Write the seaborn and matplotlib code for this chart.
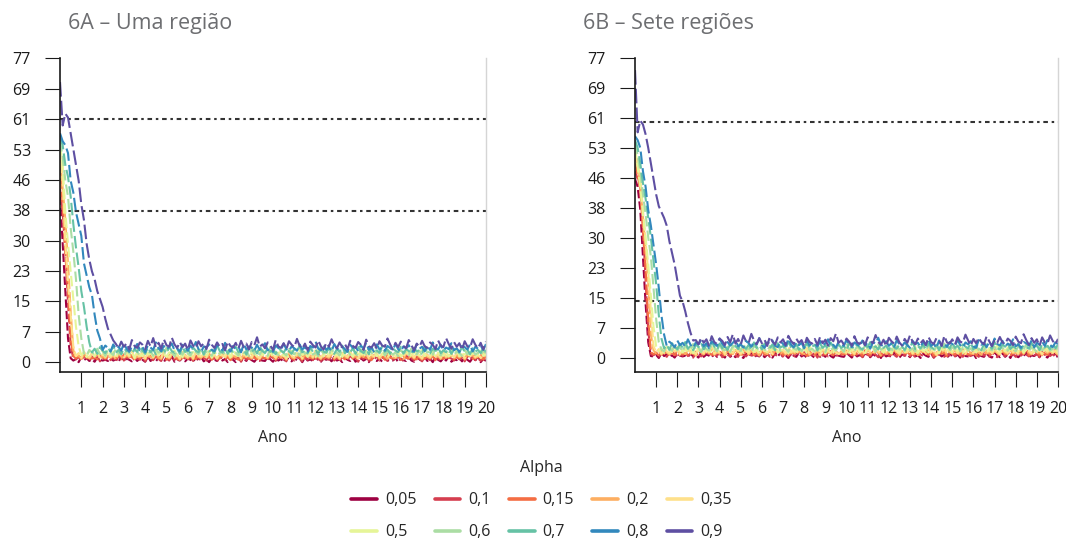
import numpy as np
import pandas as pd
import matplotlib.pyplot as plt
import seaborn as sns
from matplotlib.lines import Line2D

# Alpha values (legend labels) and weekly-ish time grid (8 steps per year, 0..20)
alpha_labels = ['0,05', '0,1', '0,15', '0,2', '0,35', '0,5', '0,6', '0,7', '0,8', '0,9']
n_steps = 161
steps_per_year = 8

# Initial fall of each series, one list per alpha
decay_a = [
    [42, 30, 18, 6, 1],
    [44, 38, 28, 15, 4, 1],
    [50, 40, 28, 18, 6, 1.5],
    [52, 44, 36, 25, 13, 3],
    [54, 46, 30, 20, 12, 4],
    [55, 50, 38, 30, 23, 16, 9, 4],
    [56, 52, 46, 42, 34, 28, 21, 12, 6],
    [57, 55, 50, 47, 42, 35, 29, 24, 18, 14, 9, 5],
    [58, 56, 55, 53, 46, 43, 38, 35, 32, 25, 22, 19, 17, 12, 8, 6],
    [71, 60, 63, 62, 58, 54, 50, 46, 40, 36, 30, 26, 23, 21, 18, 16, 14, 11, 8.5, 7, 5.5],
]
decay_b = [
    [46, 44, 38, 26, 14, 4, 0.5],
    [48, 46, 44, 34, 20, 7, 1],
    [50, 47, 43, 33, 23, 10, 1.5],
    [52, 49, 44, 36, 28, 20, 6, 2],
    [53, 50, 46, 38, 30, 22, 12, 3],
    [54, 49, 44, 37, 31, 24, 16, 8, 3],
    [55, 52, 48, 42, 37, 31, 26, 18, 10, 4],
    [56, 54, 50, 45, 41, 36, 31, 25, 19, 11, 5],
    [57, 56, 54, 48, 44, 38, 34, 29, 24, 18, 11, 6],
    [74, 58, 61, 60, 57.5, 54, 50, 46, 42, 39, 37.5, 36, 34, 30, 27, 24, 20, 16, 14.5, 12, 9, 6.5, 4.5],
]

# Noisy plateau after the fall (estimated band of each colour)
plateau_005 = [
    0.4, 0.8, 0.0, 1.3, 0.5, 1.0, 0.3, 0.7, 0.1, 1.2, 0.6, 0.4,
    0.6, 0.3, 1.1, 0.4, 0.7, 0.1, 1.4, 0.3, 0.9, 0.6, 0.2, 1.1,
    0.3, 1.0, 0.6, 0.1, 1.5, 0.3, 0.8, 0.2, 1.1, 0.5, 0.0, 1.2,
    0.5, 1.5, 0.1, 0.7, 0.4, 1.2, 0.2, 0.9, 0.6, 0.1, 1.3, 0.4,
    1.3, 0.2, 0.7, 0.0, 1.1, 0.6, 0.3, 1.4, 0.4, 0.8, 0.0, 1.0,
    0.6, 0.0, 1.2, 0.3, 0.9, 0.3, 1.5, 0.5, 0.1, 1.0, 0.6, 0.4,
    0.3, 1.3, 0.7, 0.1, 1.1, 0.4, 0.8, 0.0, 1.4, 0.5, 0.2, 1.0,
    0.5, 1.0, 0.0, 1.2, 0.4, 0.7, 0.2, 1.5, 0.4, 0.1, 0.9, 0.6,
    0.9, 0.2, 1.4, 0.4, 0.7, 0.0, 1.1, 0.6, 0.3, 1.2, 0.1, 0.8,
    1.0, 0.4, 0.8, 0.0, 1.2, 0.6, 0.3, 0.9, 0.1, 1.3, 0.5, 0.4,
    0.4, 1.1, 0.0, 0.9, 0.5, 0.3, 1.2, 0.4, 0.1, 1.4, 0.7, 0.2,
    1.2, 0.3, 0.9, 0.0, 1.3, 0.6, 0.2, 1.0, 0.4, 1.5, 0.1, 0.7,
    0.5, 1.0, 0.2, 1.3, 0.6, 0.1, 1.1, 0.5, 1.4, 0.0, 0.8, 0.3,
]
plateau_01 = [
    0.7, 1.3, 0.4, 1.6, 0.9, 0.3, 1.4, 0.8, 1.7, 0.2, 1.1, 0.6,
    1.5, 0.5, 1.2, 0.1, 1.6, 0.9, 0.4, 1.3, 0.7, 1.8, 0.3, 1.0,
    0.6, 1.4, 0.2, 1.2, 0.8, 0.5, 1.5, 0.7, 0.3, 1.7, 1.0, 0.4,
    1.3, 0.6, 1.1, 0.1, 1.5, 0.9, 0.5, 1.2, 0.3, 1.6, 0.8, 0.6,
    1.2, 0.4, 1.7, 0.7, 1.0, 0.2, 1.4, 0.9, 0.5, 1.5, 0.3, 1.1,
    0.8, 1.3, 0.1, 1.5, 0.6, 1.0, 0.4, 1.8, 0.7, 0.3, 1.2, 0.9,
    0.5, 1.6, 1.0, 0.3, 1.4, 0.7, 1.1, 0.2, 1.7, 0.8, 0.4, 1.3,
    0.9, 0.2, 1.5, 0.6, 1.2, 0.5, 1.8, 0.8, 0.3, 1.3, 0.9, 0.6,
    1.6, 0.4, 1.0, 0.2, 1.4, 0.9, 0.5, 1.7, 0.7, 1.1, 0.1, 1.3,
    0.8, 1.8, 0.3, 1.0, 0.6, 1.5, 0.4, 1.2, 0.9, 0.3, 1.6, 0.7,
    0.5, 1.3, 0.9, 0.3, 1.8, 0.6, 1.1, 0.4, 1.4, 0.8, 0.2, 1.5,
    0.9, 0.5, 1.4, 0.7, 1.0, 0.3, 1.7, 0.6, 1.2, 0.9, 0.4, 1.4,
    0.7, 1.1, 0.2, 1.6, 0.8, 1.3, 0.5, 1.0, 0.3, 1.5, 0.9, 0.6,
]
plateau_015 = [
    1.0, 1.4, 0.6, 1.9, 1.1, 1.6, 0.9, 1.3, 0.7, 1.8, 1.2, 1.0,
    1.2, 0.9, 1.7, 1.0, 1.3, 0.7, 2.0, 1.0, 1.5, 1.2, 0.8, 1.7,
    0.9, 1.6, 1.2, 0.7, 2.2, 1.0, 1.4, 0.8, 1.7, 1.1, 0.6, 1.8,
    1.1, 2.1, 0.7, 1.3, 1.0, 1.8, 0.8, 1.5, 1.2, 0.7, 1.9, 1.0,
    1.9, 0.8, 1.3, 0.6, 1.7, 1.2, 0.9, 2.0, 1.0, 1.4, 0.5, 1.6,
    1.2, 0.6, 1.8, 1.0, 1.5, 0.9, 2.2, 1.1, 0.7, 1.6, 1.2, 1.0,
    0.9, 1.9, 1.3, 0.7, 1.7, 1.0, 1.4, 0.6, 2.0, 1.1, 0.8, 1.6,
    1.1, 1.6, 0.5, 1.8, 1.0, 1.3, 0.8, 2.1, 1.0, 0.7, 1.5, 1.2,
    1.5, 0.8, 2.0, 1.0, 1.3, 0.7, 1.7, 1.2, 0.9, 1.9, 0.6, 1.4,
    1.7, 1.0, 1.4, 0.5, 1.8, 1.2, 0.9, 1.6, 0.6, 2.1, 1.1, 1.0,
    0.9, 1.8, 0.6, 1.5, 1.1, 0.9, 1.9, 1.0, 0.7, 2.0, 1.3, 0.8,
    1.8, 1.0, 1.5, 0.5, 2.0, 1.2, 0.8, 1.6, 1.0, 2.2, 0.7, 1.3,
    1.0, 1.6, 0.7, 1.9, 1.2, 0.8, 1.7, 1.1, 2.1, 0.6, 1.4, 0.9,
]
plateau_02 = [
    1.2, 1.8, 0.8, 2.1, 1.4, 0.9, 1.9, 1.3, 2.3, 0.7, 1.6, 1.0,
    2.0, 1.1, 1.7, 0.6, 2.2, 1.4, 0.9, 1.8, 1.2, 2.4, 0.8, 1.5,
    1.1, 2.0, 0.7, 1.7, 1.3, 1.0, 2.1, 1.2, 0.8, 2.2, 1.5, 0.9,
    1.9, 1.1, 1.6, 0.6, 2.0, 1.4, 1.0, 1.8, 0.7, 2.3, 1.3, 1.1,
    1.7, 0.9, 2.2, 1.2, 1.5, 0.8, 1.9, 1.4, 1.0, 2.1, 0.7, 1.6,
    1.3, 1.8, 0.6, 2.0, 1.1, 1.5, 0.9, 2.3, 1.2, 0.8, 1.7, 1.4,
    1.0, 2.1, 1.5, 0.8, 1.9, 1.2, 1.6, 0.7, 2.2, 1.3, 0.9, 1.8,
    1.4, 0.7, 2.0, 1.1, 1.7, 1.0, 2.4, 1.3, 0.8, 1.8, 1.4, 1.1,
    2.1, 0.9, 1.5, 0.7, 1.9, 1.4, 1.0, 2.2, 1.2, 1.6, 0.6, 1.8,
    1.3, 2.3, 0.8, 1.5, 1.1, 2.0, 0.9, 1.7, 1.4, 0.8, 2.1, 1.2,
    1.0, 1.8, 1.4, 0.8, 2.4, 1.1, 1.6, 0.9, 1.9, 1.3, 0.7, 2.0,
    1.4, 1.0, 1.9, 1.2, 1.5, 0.8, 2.2, 1.1, 1.7, 1.4, 0.9, 1.9,
    1.2, 1.6, 0.7, 2.1, 1.3, 1.8, 1.0, 1.5, 0.8, 2.0, 1.4, 1.1,
]
plateau_035 = [
    1.5, 2.3, 1.1, 2.6, 1.7, 1.2, 2.4, 1.6, 2.8, 1.0, 2.0, 1.4,
    2.5, 1.3, 2.1, 0.9, 2.7, 1.8, 1.2, 2.3, 1.5, 2.9, 1.1, 1.9,
    1.4, 2.6, 1.0, 2.2, 1.7, 1.3, 2.5, 1.6, 1.1, 2.8, 1.8, 1.2,
    2.4, 1.5, 2.0, 0.9, 2.6, 1.7, 1.3, 2.2, 1.0, 2.7, 1.6, 1.4,
    2.1, 1.2, 2.9, 1.5, 1.8, 1.0, 2.4, 1.7, 1.3, 2.6, 1.1, 2.0,
    1.6, 2.3, 0.9, 2.5, 1.4, 1.9, 1.2, 2.8, 1.5, 1.0, 2.2, 1.7,
    1.3, 2.6, 1.8, 1.1, 2.4, 1.5, 2.0, 0.9, 2.7, 1.6, 1.2, 2.3,
    1.8, 1.0, 2.5, 1.4, 2.1, 1.3, 3.0, 1.6, 1.1, 2.2, 1.7, 1.4,
    2.6, 1.2, 1.9, 1.0, 2.4, 1.8, 1.3, 2.7, 1.5, 2.0, 0.9, 2.3,
    1.6, 2.8, 1.1, 1.9, 1.4, 2.5, 1.2, 2.1, 1.7, 1.0, 2.6, 1.5,
    1.3, 2.2, 1.8, 1.1, 2.9, 1.4, 2.0, 1.2, 2.4, 1.6, 1.0, 2.5,
    1.7, 1.3, 2.3, 1.5, 1.9, 1.1, 2.7, 1.4, 2.1, 1.8, 1.2, 2.4,
    1.5, 2.0, 1.0, 2.6, 1.6, 2.2, 1.3, 1.9, 1.1, 2.5, 1.7, 1.4,
]
plateau_05 = [
    1.8, 2.5, 1.3, 2.9, 2.0, 1.5, 2.7, 1.9, 3.1, 1.4, 2.3, 1.7,
    2.6, 1.2, 2.8, 2.1, 1.6, 3.0, 1.8, 2.4, 1.1, 2.7, 2.0, 1.5,
    3.2, 1.9, 2.2, 1.4, 2.6, 1.7, 2.9, 2.1, 1.3, 2.5, 1.8, 3.0,
    1.6, 2.3, 1.2, 2.8, 2.0, 1.5, 2.6, 1.9, 3.3, 1.4, 2.2, 1.7,
    2.7, 1.1, 2.4, 2.0, 1.6, 2.9, 1.8, 2.5, 1.3, 3.1, 1.9, 1.5,
    2.3, 1.7, 2.8, 1.2, 2.6, 2.1, 1.4, 3.0, 1.8, 2.2, 1.6, 2.7,
    1.3, 2.5, 1.9, 2.9, 1.5, 2.1, 1.1, 2.8, 2.0, 1.7, 3.2, 1.8,
    2.4, 1.4, 2.6, 1.9, 1.2, 3.0, 2.2, 1.6, 2.7, 1.5, 2.3, 2.0,
    1.7, 2.9, 1.3, 2.5, 1.8, 2.1, 1.4, 3.1, 1.9, 2.4, 1.2, 2.6,
    2.0, 1.6, 2.8, 1.5, 2.2, 1.8, 3.0, 1.3, 2.5, 1.9, 1.6, 2.7,
    1.4, 2.3, 1.9, 2.9, 1.2, 2.6, 2.0, 1.7, 3.2, 1.5, 2.1, 1.8,
    2.7, 1.3, 2.4, 1.9, 1.6, 2.8, 1.4, 2.2, 1.8, 3.0, 1.5, 2.3,
    1.9, 2.6, 1.2, 2.5, 2.0, 1.7, 2.9, 1.6, 2.1, 1.4, 2.7, 1.8,
]
plateau_06 = [
    2.2, 1.7, 3.1, 2.5, 1.9, 3.4, 2.0, 2.8, 1.6, 3.2, 2.4, 1.8,
    3.6, 2.1, 2.7, 1.5, 3.0, 2.3, 1.9, 3.3, 2.6, 1.7, 3.5, 2.2,
    2.0, 2.9, 1.6, 3.2, 2.4, 2.8, 1.8, 3.7, 2.1, 2.5, 1.5, 3.0,
    2.7, 1.9, 3.4, 2.2, 1.7, 3.1, 2.6, 2.0, 3.6, 1.8, 2.8, 2.3,
    1.6, 3.3, 2.5, 2.1, 3.0, 1.8, 2.7, 3.5, 2.0, 2.4, 1.7, 3.2,
    2.3, 2.9, 1.5, 3.4, 2.1, 2.6, 1.9, 3.1, 2.4, 1.6, 3.8, 2.2,
    2.7, 1.8, 3.0, 2.3, 1.7, 3.3, 2.5, 2.0, 2.9, 1.6, 3.5, 2.1,
    2.6, 3.2, 1.9, 2.4, 1.5, 3.0, 2.2, 2.8, 1.8, 3.6, 2.0, 2.5,
    1.7, 3.1, 2.3, 2.9, 1.9, 3.4, 2.1, 1.6, 3.2, 2.6, 2.0, 3.7,
    2.4, 1.8, 2.8, 2.2, 3.3, 1.7, 2.6, 3.0, 1.9, 2.5, 1.5, 3.1,
    2.1, 2.7, 1.8, 3.5, 2.3, 2.0, 2.9, 1.6, 3.2, 2.4, 2.8, 1.9,
    3.4, 2.2, 1.7, 3.0, 2.5, 2.1, 3.6, 1.8, 2.7, 2.3, 1.6, 3.1,
    2.0, 2.6, 3.3, 1.9, 2.4, 1.7, 2.9, 2.2, 3.5, 2.0, 2.5, 1.8,
]
plateau_07 = [
    2.5, 3.4, 2.1, 3.8, 2.9, 2.3, 3.6, 2.7, 4.1, 2.4, 3.1, 2.0,
    3.5, 2.8, 3.9, 2.2, 3.3, 2.6, 4.2, 2.9, 2.1, 3.7, 2.5, 3.2,
    2.0, 3.6, 2.7, 3.1, 2.3, 3.9, 2.8, 2.4, 3.4, 2.1, 4.0, 2.6,
    3.3, 2.2, 3.7, 2.9, 2.5, 3.5, 2.0, 3.8, 2.7, 3.1, 2.3, 4.3,
    2.8, 2.4, 3.6, 2.1, 3.2, 2.7, 3.9, 2.5, 2.9, 3.4, 1.9, 3.7,
    2.6, 3.3, 2.2, 4.0, 2.8, 2.3, 3.5, 2.6, 3.1, 2.0, 3.8, 2.9,
    2.4, 3.6, 2.7, 2.1, 3.4, 2.8, 4.1, 2.5, 3.0, 2.2, 3.7, 2.6,
    3.2, 2.0, 3.9, 2.7, 2.4, 3.5, 2.9, 2.1, 3.3, 2.6, 4.2, 2.3,
    3.1, 2.5, 3.6, 2.2, 3.8, 2.8, 2.3, 3.4, 2.0, 3.7, 2.7, 3.0,
    2.4, 4.0, 2.6, 3.2, 2.1, 3.5, 2.9, 2.5, 3.9, 2.2, 3.3, 2.8,
    2.0, 3.6, 2.7, 3.1, 2.4, 4.1, 2.6, 2.2, 3.4, 2.9, 3.8, 2.3,
    3.0, 2.5, 3.7, 2.1, 3.3, 2.8, 2.4, 3.9, 2.6, 3.2, 2.0, 3.5,
    2.7, 3.1, 2.3, 3.8, 2.5, 3.4, 2.9, 2.2, 3.6, 2.7, 3.0, 2.4,
]
plateau_08 = [
    3.1, 4.2, 3.6, 2.7, 4.5, 3.3, 3.9, 2.9, 4.8, 3.4, 2.6, 4.0,
    3.5, 4.6, 3.0, 3.8, 2.5, 4.3, 3.7, 3.1, 5.0, 3.6, 2.8, 4.1,
    3.2, 3.9, 4.7, 3.0, 3.5, 2.7, 4.4, 3.8, 2.9, 4.2, 3.4, 5.1,
    3.3, 2.6, 4.0, 3.7, 4.5, 3.1, 2.8, 4.3, 3.6, 3.0, 4.9, 3.5,
    2.7, 4.1, 3.3, 3.9, 2.5, 4.6, 3.2, 4.0, 3.7, 2.9, 4.4, 3.1,
    3.8, 4.8, 3.0, 3.4, 2.6, 4.2, 3.6, 3.1, 4.7, 3.3, 2.8, 4.0,
    3.5, 2.9, 4.5, 3.2, 3.9, 2.4, 4.1, 3.7, 5.2, 3.4, 3.0, 4.3,
    3.1, 3.8, 2.7, 4.6, 3.5, 3.0, 4.0, 3.3, 2.6, 4.4, 3.6, 3.9,
    2.8, 4.2, 3.4, 4.9, 3.1, 3.7, 2.5, 4.5, 3.2, 3.8, 2.9, 4.1,
    3.6, 3.0, 4.7, 3.3, 2.7, 4.0, 3.5, 4.3, 3.0, 2.6, 4.6, 3.4,
    3.9, 2.8, 4.2, 3.1, 5.0, 3.6, 3.2, 4.4, 2.9, 3.7, 3.3, 4.8,
    3.0, 3.5, 2.6, 4.1, 3.8, 3.2, 4.5, 2.7, 3.9, 3.4, 4.2, 3.1,
    4.6, 3.3, 2.8, 4.0, 3.6, 3.0, 4.3, 3.5, 2.9, 4.7, 3.2, 3.8,
]
plateau_09 = [
    4.6, 3.5, 5.2, 3.9, 4.8, 3.2, 5.6, 4.1, 3.6, 5.0, 4.4, 3.3,
    5.4, 4.0, 6.1, 3.7, 4.9, 3.4, 5.8, 4.3, 3.9, 6.2, 4.5, 3.6,
    5.1, 3.8, 4.7, 3.1, 5.5, 4.2, 3.5, 5.3, 4.0, 4.8, 3.3, 5.7,
    4.4, 3.6, 5.0, 3.9, 4.6, 3.0, 5.2, 4.1, 3.7, 4.9, 3.4, 5.4,
    3.8, 4.7, 3.2, 5.1, 4.3, 6.3, 3.9, 4.5, 3.5, 5.0, 4.2, 3.1,
    5.6, 4.0, 3.6, 4.8, 3.3, 5.3, 4.4, 3.8, 5.9, 4.1, 3.4, 4.7,
    3.0, 5.2, 4.3, 3.7, 5.5, 4.0, 3.2, 4.9, 3.9, 5.8, 4.2, 3.5,
    5.0, 3.8, 4.6, 3.3, 5.4, 4.1, 3.6, 5.1, 4.4, 3.1, 5.7, 4.0,
    3.7, 4.8, 3.4, 5.3, 4.2, 3.9, 6.0, 4.5, 3.2, 4.9, 3.8, 5.2,
    4.1, 3.5, 5.6, 4.3, 3.0, 4.7, 3.9, 5.4, 4.0, 3.6, 5.0, 4.4,
    3.3, 5.5, 4.2, 3.8, 6.1, 4.6, 3.4, 5.1, 3.9, 4.8, 3.1, 5.3,
    4.0, 3.7, 5.8, 4.4, 3.5, 4.9, 3.2, 5.2, 4.1, 3.6, 5.5, 4.3,
    3.9, 5.0, 3.4, 4.7, 4.2, 5.9, 3.8, 4.5, 3.3, 5.1, 4.0, 4.6,
]
plateaus = [plateau_005, plateau_01, plateau_015, plateau_02, plateau_035,
            plateau_05, plateau_06, plateau_07, plateau_08, plateau_09]

# Dotted reference levels of each panel
ref_levels_a = [61.6, 38.4]
ref_levels_b = [60.6, 14.7]

y_ticks = [0, 7.7, 15.4, 23.1, 30.8, 38.5, 46.2, 53.9, 61.6, 69.3, 77]
y_tick_labels = ['0', '7', '15', '23', '30', '38', '46', '53', '61', '69', '77']
x_ticks = list(range(1, 21))

titles = ['6A – Uma região', '6B – Sete regiões']

# ColorBrewer "Spectral", 10 classes
spectral_10 = ['#9e0142', '#d53e4f', '#f46d43', '#fdae61', '#fee08b',
               '#e6f598', '#abdda4', '#66c2a5', '#3288bd', '#5e4fa2']


def build_panel(decays):
    years = np.arange(n_steps) / steps_per_year
    frames = []
    for label, decay, tail in zip(alpha_labels, decays, plateaus):
        values = decay + tail[:n_steps - len(decay)]
        frames.append(pd.DataFrame({'Ano': years, 'valor': values, 'Alpha': label}))
    return pd.concat(frames, ignore_index=True)


sns.set_theme(style='ticks')
plt.rcParams['font.family'] = ['Open Sans', 'DejaVu Sans']

palette = dict(zip(alpha_labels, spectral_10))
dash_map = {
    '0,05': (4, 1.5), '0,1': (4, 1.5), '0,15': (5, 1.5), '0,2': (5, 1.5),
    '0,35': (5, 1.5), '0,5': (5, 2), '0,6': (5, 2), '0,7': (6, 2),
    '0,8': (6, 2), '0,9': (7, 2),
}

fig = plt.figure(figsize=(10.66, 5.40), dpi=100)
ax_a = fig.add_axes([0.0563, 0.3111, 0.3996, 0.5815])
ax_b = fig.add_axes([0.5957, 0.3111, 0.3968, 0.5815])

panels = [(ax_a, decay_a, ref_levels_a, -2.5), (ax_b, decay_b, ref_levels_b, -3.6)]
for ax, decays, refs, ymin in panels:
    df = build_panel(decays)
    for lvl in refs:
        ax.axhline(lvl, color='#333333', lw=1.5, ls=(0, (2.2, 1.8, 1.2, 1.8)), zorder=1)
    sns.lineplot(data=df, x='Ano', y='valor', hue='Alpha', style='Alpha',
                 hue_order=alpha_labels, style_order=alpha_labels,
                 palette=palette, dashes=dash_map, linewidth=1.5,
                 estimator=None, legend=False, ax=ax)
    ax.set_xlim(0, 20)
    ax.set_ylim(ymin, 77.1)
    ax.set_xticks(x_ticks)
    ax.set_xticklabels([str(v) for v in x_ticks])
    ax.set_yticks(y_ticks)
    ax.set_yticklabels(y_tick_labels)
    ax.set_xlabel('Ano', fontsize=11.5, labelpad=9)
    ax.set_ylabel('')
    ax.tick_params(axis='both', direction='out', length=11, width=0.8,
                   pad=10, labelsize=11.5, colors='#1a1a1a')
    ax.spines['top'].set_visible(False)
    ax.spines['right'].set_color('#d5d5d5')
    ax.spines['right'].set_linewidth(1.0)
    for side in ['left', 'bottom']:
        ax.spines[side].set_color('#1a1a1a')
        ax.spines[side].set_linewidth(1.2)

fig.text(0.0638, 0.957, titles[0], fontsize=15.5, color='#6d6e71', va='center', ha='left')
fig.text(0.547, 0.957, titles[1], fontsize=15.5, color='#6d6e71', va='center', ha='left')

# Legend in row-major order (matplotlib fills columns first)
handles = [Line2D([0], [0], color=palette[l], lw=2.6) for l in alpha_labels]
order = [0, 5, 1, 6, 2, 7, 3, 8, 4, 9]
fig.legend([handles[i] for i in order], [alpha_labels[i] for i in order],
           ncol=5, title='Alpha', loc='upper center', bbox_to_anchor=(0.508, 0.174),
           frameon=False, fontsize=11.5, title_fontsize=11.5, handlelength=1.6,
           handletextpad=0.5, columnspacing=1.15, labelspacing=1.0)

fig.savefig('out.png', dpi=100)
